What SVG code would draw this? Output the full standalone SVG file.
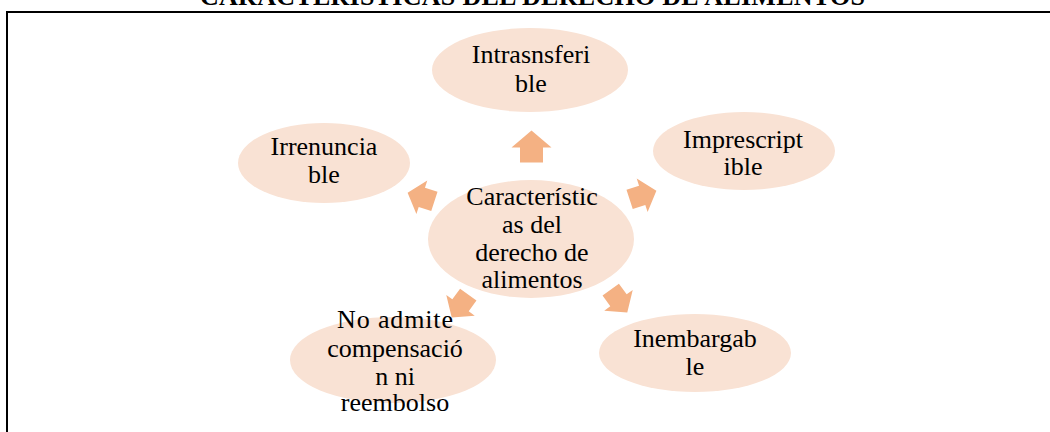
<svg xmlns="http://www.w3.org/2000/svg" width="1050" height="432" viewBox="0 0 1050 432">
<style>
.node ellipse{fill:#F9E2D4;}
.lbl{font-family:"Liberation Serif","Times New Roman",serif;font-size:26px;fill:#000;text-anchor:middle;}
.title{font-family:"Liberation Serif","Times New Roman",serif;font-size:26px;font-weight:bold;fill:#000;}
.arr{fill:#F4B183;}
</style>
<defs>
<path id="blk" d="M0,-16 L20,1 L11.5,1 L11.5,16 L-11.5,16 L-11.5,1 L-20,1 Z"/>
</defs>
<rect width="1050" height="432" fill="#fff"/>
<text class="title" x="200" y="5" textLength="665" lengthAdjust="spacing">CARACTERÍSTICAS DEL DERECHO DE ALIMENTOS</text>
<path d="M7,433 V12 H1051" fill="none" stroke="#000" stroke-width="2"/>
<g id="connectors" class="arr">
<use href="#blk" transform="translate(531.5,146.5)"/>
<use href="#blk" transform="translate(421,197) rotate(-72) scale(0.88)"/>
<use href="#blk" transform="translate(643,195) rotate(72) scale(0.88)"/>
<use href="#blk" transform="translate(619,301) rotate(144) scale(0.88)"/>
<use href="#blk" transform="translate(460,306) rotate(-144) scale(0.88)"/>
</g>
<g id="center" class="node">
<ellipse cx="531" cy="239" rx="103" ry="59"/>
<text class="lbl" x="532" y="205">Característic</text>
<text class="lbl" x="532" y="233">as del</text>
<text class="lbl" x="532" y="261">derecho de</text>
<text class="lbl" x="532" y="288">alimentos</text>
</g>
<g id="intransferible" class="node">
<ellipse cx="530" cy="70" rx="98" ry="42"/>
<text class="lbl" x="531" y="63">Intrasnsferi</text>
<text class="lbl" x="531" y="92">ble</text>
</g>
<g id="irrenunciable" class="node">
<ellipse cx="324" cy="163" rx="86" ry="40"/>
<text class="lbl" x="324" y="155">Irrenuncia</text>
<text class="lbl" x="324" y="183">ble</text>
</g>
<g id="imprescriptible" class="node">
<ellipse cx="744" cy="151" rx="91" ry="39"/>
<text class="lbl" x="743" y="148">Imprescript</text>
<text class="lbl" x="743" y="175">ible</text>
</g>
<g id="inembargable" class="node">
<ellipse cx="695" cy="353" rx="96" ry="39"/>
<text class="lbl" x="695" y="347">Inembargab</text>
<text class="lbl" x="695" y="375">le</text>
</g>
<g id="compensacion" class="node">
<ellipse cx="393" cy="360" rx="103" ry="43"/>
<text class="lbl" x="395" y="328" textLength="116" lengthAdjust="spacing">No admite</text>
<text class="lbl" x="395" y="357">compensació</text>
<text class="lbl" x="395" y="385">n ni</text>
<text class="lbl" x="395" y="411">reembolso</text>
</g>
</svg>
